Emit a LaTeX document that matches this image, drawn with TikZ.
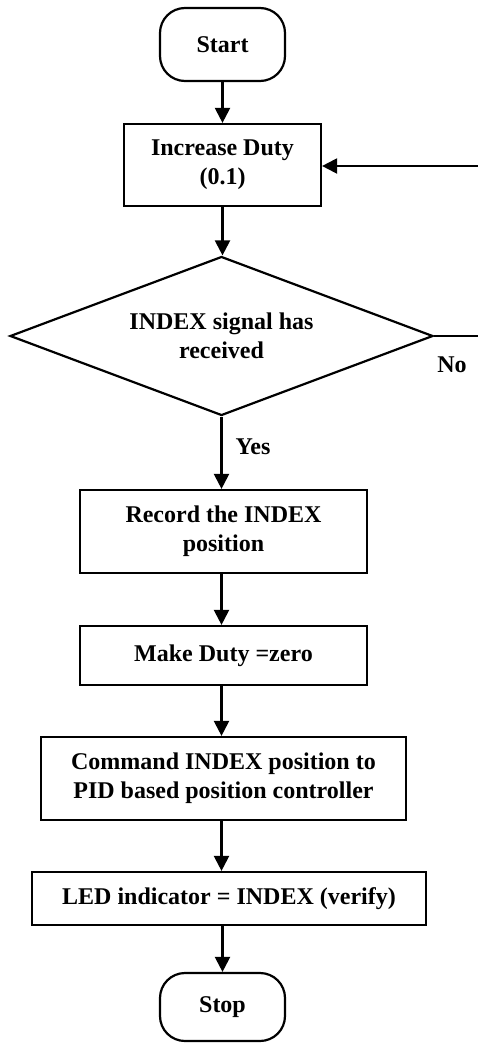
\documentclass[tikz,border=0pt]{standalone}
\usepackage{fontspec}
\setmainfont{Liberation Serif}
\usetikzlibrary{shapes.geometric,arrows.meta}
\begin{document}
\begin{tikzpicture}[x=1pt,y=-1pt,
  every node/.style={font=\fontsize{24}{29}\selectfont\bfseries, align=center, inner sep=0pt},
  box/.style={draw, line width=2.2pt, minimum width=#1},
  term/.style={draw, line width=2.2pt, rounded corners=25pt, minimum width=125pt},
  dec/.style={draw, diamond, shape aspect=2.66, line width=2.2pt, minimum width=423pt, minimum height=159pt},
  flow/.style={line width=2.2pt, -{Triangle[length=15pt,width=15pt]}},
  lbl/.style={font=\fontsize{24}{29}\selectfont\bfseries}]
\useasboundingbox (0,0) rectangle (478,1044);
\node[term, minimum height=73pt] (start) at (222.5,44.5) {Start};
\node[box=197pt, minimum height=82pt] (inc) at (222.5,165) {Increase Duty\\(0.1)};
\node[dec] (dia) at (221.5,336) {INDEX signal has\\received};
\node[box=287pt, minimum height=83pt] (rec) at (223.5,531.5) {Record the INDEX\\position};
\node[box=287pt, minimum height=59pt] (make) at (223.5,655.5) {Make Duty =zero};
\node[box=365pt, minimum height=83pt] (cmd) at (223.5,778.5) {Command INDEX position to\\PID based position controller};
\node[box=394pt, minimum height=53pt] (led) at (229,898.5) {LED indicator = INDEX (verify)};
\node[term, minimum height=68pt] (stop) at (222.5,1007) {Stop};
\node[lbl] (no) at (452,365) {No};
\node[lbl] (yes) at (253,447) {Yes};
\coordinate (r1) at (492,336);
\coordinate (r2) at (492,166);
\draw[flow] (start.south -| inc.north) -- (inc.north);
\draw[flow] (inc.south) -- (dia.north -| inc.south);
\draw[flow] (dia.south) -- (rec.north -| dia.south);
\draw[flow] (rec.south -| dia.south) -- (make.north -| dia.south);
\draw[flow] (make.south -| dia.south) -- (cmd.north -| dia.south);
\draw[flow] (cmd.south -| dia.south) -- (led.north -| dia.south);
\draw[flow] (led.south -| stop.north) -- (stop.north);
\draw[flow] (dia.east) -- (r1) -- (r2) -- (inc.east |- r2);
\end{tikzpicture}
\end{document}
